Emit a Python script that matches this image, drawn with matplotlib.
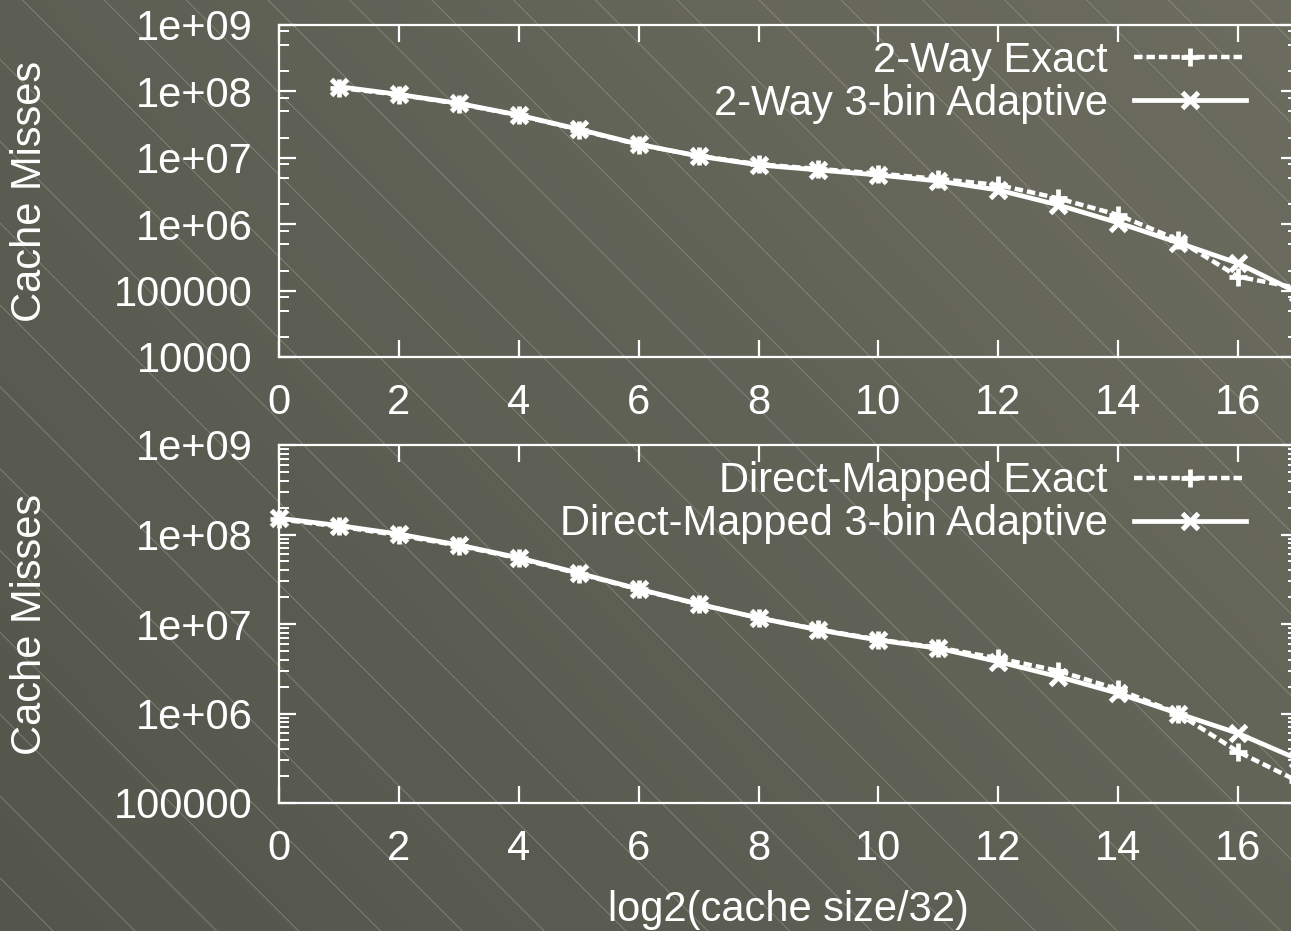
import numpy as np
import matplotlib
matplotlib.use("Agg")
import matplotlib.pyplot as plt
from matplotlib.ticker import LogLocator, FuncFormatter, MultipleLocator, NullFormatter

# --- data -------------------------------------------------------------
x_two_way = list(range(1, 18))
two_way_exact = [1.13e8, 8.9e7, 6.5e7, 4.35e7, 2.65e7, 1.58e7, 1.07e7, 8.0e6,
                 6.8e6, 5.8e6, 4.8e6, 3.9e6, 2.45e6, 1.38e6, 5.8e5, 1.62e5, 1.09e5]
two_way_adaptive = [1.18e8, 9.0e7, 6.6e7, 4.4e7, 2.69e7, 1.6e7, 1.06e7, 7.8e6,
                    6.55e6, 5.5e6, 4.47e6, 3.27e6, 1.95e6, 1.05e6, 5.27e5, 2.58e5, 9.3e4]

x_direct = list(range(0, 18))
direct_exact = [1.48e8, 1.23e8, 9.8e7, 7.5e7, 5.4e7, 3.65e7, 2.43e7, 1.66e7, 1.17e7,
                8.7e6, 6.7e6, 5.45e6, 4.14e6, 3.0e6, 1.86e6, 1.0e6, 3.74e5, 1.75e5]
direct_adaptive = [1.52e8, 1.26e8, 1.01e8, 7.64e7, 5.5e7, 3.7e7, 2.46e7, 1.67e7, 1.17e7,
                   8.6e6, 6.6e6, 5.35e6, 3.79e6, 2.58e6, 1.68e6, 1.0e6, 6.0e5, 3.08e5]

labels_two_way = ["2-Way Exact", "2-Way 3-bin Adaptive"]
labels_direct = ["Direct-Mapped Exact", "Direct-Mapped 3-bin Adaptive"]
y_label = "Cache Misses"
x_label = "log2(cache size/32)"

# --- figure -----------------------------------------------------------
W, H = 1291, 931
plt.rcParams["font.family"] = ["Liberation Sans", "DejaVu Sans"]
fig = plt.figure(figsize=(W / 100, H / 100), dpi=100)

# Background: soft diagonal gradient with thin diagonal hatch lines
bg = fig.add_axes([0, 0, 1, 1], zorder=-10)
xx, yy = np.meshgrid(np.linspace(0, 1, 200), np.linspace(0, 1, 200))
t = 0.6 * xx + 0.4 * (1 - yy)
c_lo = np.array([0x54, 0x55, 0x4b]) / 255
c_hi = np.array([0x6c, 0x6d, 0x60]) / 255
img = c_lo[None, None, :] + (c_hi - c_lo)[None, None, :] * t[:, :, None]
bg.imshow(img, extent=[0, W, H, 0], aspect="auto", interpolation="bilinear")
spacing = 81.86
for k in range(-20, 20):
    c = 268 + k * spacing
    bg.plot([c, c + H + 100], [0, H + 100], color="#a2a398", lw=0.6, alpha=0.6)
bg.set_xlim(0, W)
bg.set_ylim(H, 0)
bg.axis("off")

WHITE = "white"
FS = 30


def style_axes(ax, ymin, ymax, subs):
    ax.set_facecolor("none")
    ax.set_yscale("log")
    ax.set_xlim(0, 17)
    ax.set_ylim(ymin, ymax)
    for s in ax.spines.values():
        s.set_color(WHITE)
        s.set_linewidth(1.6)
    ax.xaxis.set_major_locator(MultipleLocator(2))
    ax.yaxis.set_major_locator(LogLocator(base=10, numticks=20))
    ax.yaxis.set_minor_locator(LogLocator(base=10, subs=subs, numticks=20))
    ax.yaxis.set_minor_formatter(NullFormatter())
    ax.yaxis.set_major_formatter(FuncFormatter(
        lambda v, p: (str(int(round(v))) if v < 1e6 else f"{v:.0e}")))
    ax.tick_params(axis="both", which="major", direction="in", length=12,
                   width=1.6, color=WHITE, labelcolor=WHITE, labelsize=FS,
                   pad=19, top=True, right=True)
    ax.tick_params(axis="y", which="minor", direction="in", length=7,
                   width=1.4, color=WHITE, right=True)


def draw(ax, x, exact, adaptive, labels, legend_y):
    ax.plot(x, exact, color=WHITE, lw=3.2, linestyle=(0, (1.9, 0.9)),
            marker="+", markersize=13, markeredgewidth=3.4, clip_on=False,
            label=labels[0], zorder=5)
    ax.plot(x, adaptive, color=WHITE, lw=3.4, linestyle="-",
            marker="x", markersize=12, markeredgewidth=3.6, clip_on=False,
            label=labels[1], zorder=6)
    leg = ax.legend(loc="upper right", bbox_to_anchor=(0.949, legend_y),
                    frameon=False, markerfirst=False, fontsize=FS,
                    handlelength=2.7, handletextpad=0.62, labelspacing=0.07,
                    borderpad=0, borderaxespad=0, numpoints=1)
    for txt in leg.get_texts():
        txt.set_color(WHITE)


ax1 = fig.add_axes([279 / W, 1 - 357 / H, 1019 / W, 332 / H])
style_axes(ax1, 1e4, 1e9, [2, 5, 8])
draw(ax1, x_two_way, two_way_exact, two_way_adaptive, labels_two_way, 0.953)

ax2 = fig.add_axes([279 / W, 1 - 803 / H, 1019 / W, 358 / H])
style_axes(ax2, 1e5, 1e9, [2, 3, 4, 5, 6, 7, 8, 9])
draw(ax2, x_direct, direct_exact, direct_adaptive, labels_direct, 0.954)

# Axis titles
fig.text(30 / W, 1 - 191 / H, y_label, rotation=90, ha="center", va="center",
         color=WHITE, fontsize=FS)
fig.text(30 / W, 1 - 624 / H, y_label, rotation=90, ha="center", va="center",
         color=WHITE, fontsize=FS)
fig.text(788 / W, 1 - 910 / H, x_label, ha="center", va="center",
         color=WHITE, fontsize=FS)

fig.savefig("out.png", dpi=100)
